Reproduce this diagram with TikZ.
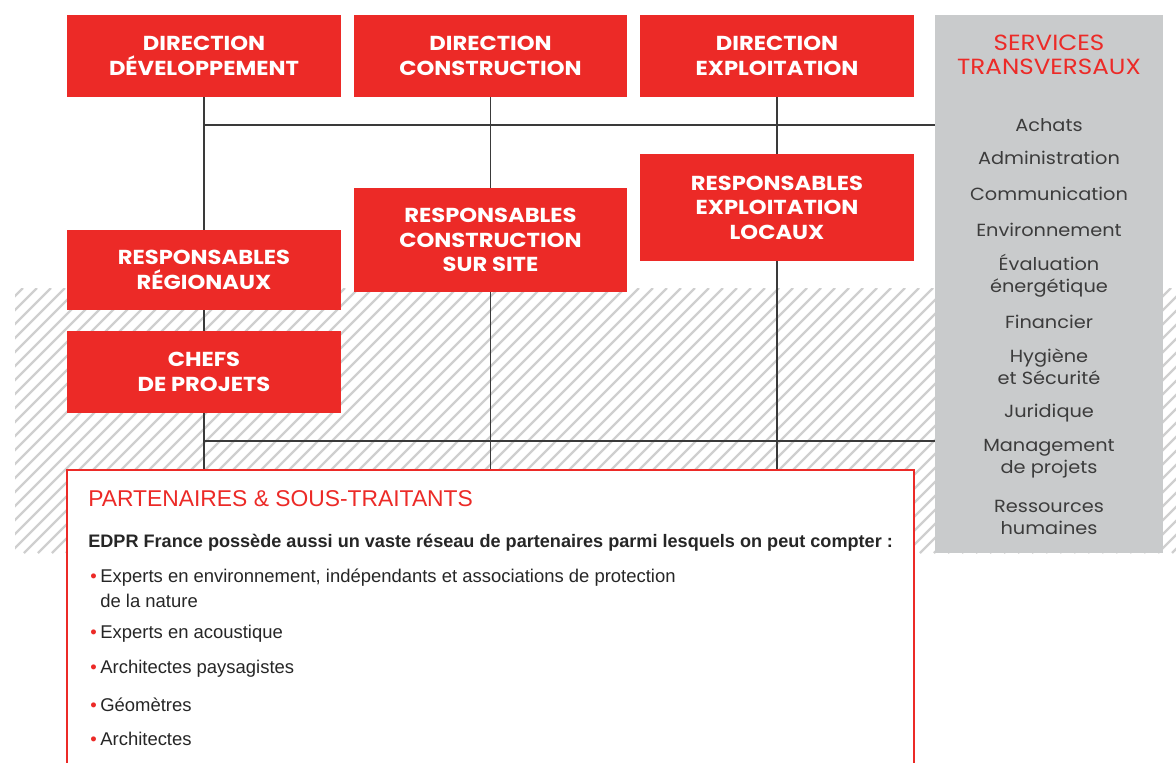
\documentclass[tikz,border=0pt]{standalone}
\usepackage{fontspec}
\setmainfont{Liberation Sans}
\newfontfamily\headfont[FakeStretch=1.12]{Poppins}
\newfontfamily\srvfont[FakeStretch=1.1]{Poppins}

\definecolor{edpred}{HTML}{EC2A27}
\definecolor{srvgray}{HTML}{C9CBCC}
\definecolor{hatchgray}{HTML}{CFCFCF}
\definecolor{linkgray}{HTML}{3A3A3A}
\definecolor{txtgray}{HTML}{3C3C3C}

\tikzset{
  redbox/.style={fill=edpred, text=white, align=center, minimum width=5.48cm,
    inner sep=0pt, font=\headfont\bfseries\fontsize{11.5}{14}\selectfont},
  link/.style={draw=linkgray, line width=1.1pt},
  srvitem/.style={text=txtgray, align=center, inner sep=0pt,
    font=\srvfont\fontsize{10}{12.5}\selectfont},
  parttext/.style={anchor=west, inner sep=0pt, text=black!85,
    font=\fontsize{10.5}{13}\selectfont, align=left},
}

\begin{document}
\begin{tikzpicture}[x=0.02cm, y=-0.02cm]
\useasboundingbox (0,0) rectangle (1176,762);
% hatched band
\begin{scope}
\clip (15,288) rectangle (1176,553);
\foreach \x in {-270,-256,...,1180}
  \draw[hatchgray, line width=1.3pt] (\x,553) -- ++(265,-265);
\end{scope}
% services column
\node[fill=srvgray, minimum width=4.56cm, minimum height=10.76cm, inner sep=0pt] (srv) at (1049,284) {};
\node[text=edpred, align=center, font=\headfont\fontsize{12.5}{14}\selectfont] (srvtitle) at (1049,55) {SERVICES\\TRANSVERSAUX};
\foreach \y/\t [count=\i] in {125/Achats, 158/Administration, 194/Communication,
    230/Environnement, 275.5/{Évaluation\\énergétique}, 322/Financier,
    366.5/{Hygiène\\et Sécurité}, 413/Juridique, 458.5/{Management\\de projets},
    517.5/{Ressources\\humaines}}
  \node[srvitem] (srv-\i) at (1049,\y) {\t};
% directions
\node[redbox, minimum height=1.64cm] (dd) at (204,56) {DIRECTION\\DÉVELOPPEMENT};
\node[redbox, minimum height=1.64cm] (dc) at (490.5,56) {DIRECTION\\CONSTRUCTION};
\node[redbox, minimum height=1.64cm] (de) at (777,56) {DIRECTION\\EXPLOITATION};
% responsables
\node[redbox, minimum height=1.6cm] (rr) at (204,270) {RESPONSABLES\\RÉGIONAUX};
\node[redbox, minimum height=2.08cm] (rc) at (490.5,240) {RESPONSABLES\\CONSTRUCTION\\SUR SITE};
\node[redbox, minimum height=2.14cm] (re) at (777,207.5) {RESPONSABLES\\EXPLOITATION\\LOCAUX};
\node[redbox, minimum height=1.64cm] (cp) at (204,372) {CHEFS\\DE PROJETS};
% partenaires
\node[draw=edpred, line width=1pt, fill=white, minimum width=16.94cm, minimum height=6.6cm, inner sep=0pt] (part) at (490.5,635) {};
\node[parttext, text=edpred, font=\fontsize{13}{15}\selectfont] (parttitle) at (88,499) {PARTENAIRES \& SOUS-TRAITANTS};
\node[parttext, font=\bfseries\fontsize{10.3}{13}\selectfont] (partintro) at (88,543) {EDPR France possède aussi un vaste réseau de partenaires parmi lesquels on peut compter :};
\foreach \y/\t [count=\i] in {578/{Experts en environnement, indépendants et associations de protection},
    634/Experts en acoustique, 669/Architectes paysagistes, 705/Géomètres, 739/Architectes}
  \node[parttext] (item-\i) at (100,\y) {\makebox[0pt][r]{\textcolor{edpred}{\textbullet}\hspace{2pt}}\t};
\node[parttext] (item-1b) at (100,601) {de la nature};
% links
\coordinate (top) at (204,125);
\coordinate (bot) at (204,441);
\draw[link] (dd.south) -- (rr.north);
\draw[link] (rr.south) -- (cp.north);
\draw[link] (dc.south) -- (rc.north);
\draw[link] (de.south) -- (re.north);
\draw[link] (top) -- (top -| srv.west);
\draw[link] (bot) -- (bot -| srv.west);
\draw[link] (cp.south) -- (cp.south |- part.north);
\draw[link] (rc.south) -- (rc.south |- part.north);
\draw[link] (re.south) -- (re.south |- part.north);
\end{tikzpicture}
\end{document}
